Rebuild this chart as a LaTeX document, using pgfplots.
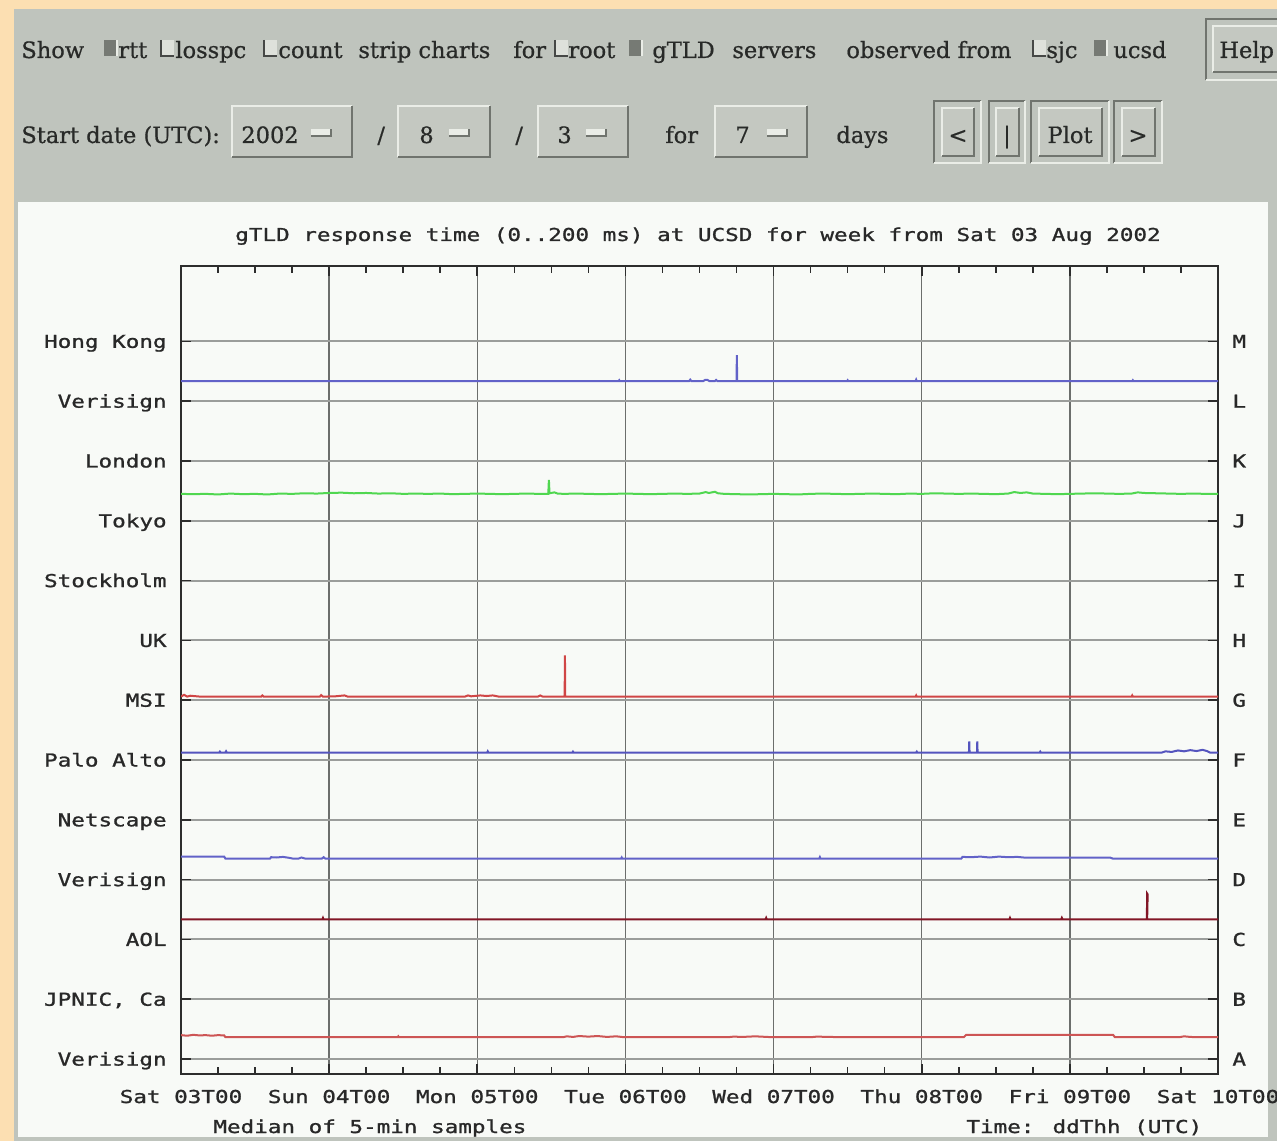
\documentclass[border=0pt]{standalone}
\usepackage{fontspec}
\usepackage{pgfplots}
\usepackage{pgfplotstable}
\pgfplotsset{compat=1.18}
\setmainfont[FakeBold=0.7]{DejaVu Serif}
\newfontfamily\pix[FakeStretch=1.27,FakeBold=1.2]{DejaVu Sans Mono}
\newcommand\pixf{\pix\fontsize{8.9pt}{10pt}\selectfont}
\newcommand\uif{\fontsize{11.25pt}{13pt}\selectfont}

\definecolor{peach}{RGB}{252,223,178}
\definecolor{panel}{RGB}{191,196,189}
\definecolor{panelhi}{RGB}{234,237,231}
\definecolor{panello}{RGB}{112,116,110}
\definecolor{btnface}{RGB}{196,200,193}
\definecolor{boxlight}{RGB}{222,225,219}
\definecolor{boxdark}{RGB}{70,72,70}
\definecolor{boxon}{RGB}{118,122,116}
\definecolor{chartbg}{RGB}{248,250,247}
\definecolor{gridh}{RGB}{155,157,155}
\definecolor{gridv}{RGB}{108,110,108}
\definecolor{framec}{RGB}{45,45,45}
\definecolor{labc}{RGB}{40,40,40}
\definecolor{uitext}{RGB}{40,42,40}
\definecolor{cblue}{RGB}{98,98,200}
\definecolor{cblue2}{RGB}{84,84,190}
\definecolor{cgreen}{RGB}{80,215,80}
\definecolor{cred}{RGB}{208,70,70}
\definecolor{cdred}{RGB}{130,22,38}
\definecolor{cpink}{RGB}{205,85,85}

% round-trip times (ms) per server, hour offset from Sat 03 Aug 00:00 UTC
\pgfplotstableread{
h ms
0 67
70.9 67
71.0 70
71.1 67
82.3 67
82.5 72
82.7 67
84.6 67
84.9 71
85.3 71
85.6 67
86.5 67
86.7 71
86.9 67
90.0 67
90.05 154
90.1 67
107.9 67
108.0 70
108.1 67
119.0 67
119.1 72
119.2 67
154.1 67
154.2 70
154.3 67
168 67
}\tabL

\pgfplotstableread{
h ms
0 90
2 89
4 90
6 88
8 91
10 89
12 90
14 88
16 91
18 90
20 92
22 91
24 93
26 94
28 92
30 93
32 91
34 92
36 90
38 91
40 90
42 91
44 89
46 90
48 91
50 90
52 89
54 90
56 91
58 90
59.5 90
59.6 137
59.7 92
60.5 95
61 91
62 90
64 91
66 90
68 89
70 90
72 91
74 90
76 89
78 90
80 91
82 90
84 91
85 96
85.5 93
86.5 97
87 92
88 90
90 89
92 88
94 89
96 90
98 89
100 88
102 90
104 91
106 90
108 89
110 90
112 91
114 90
116 89
118 91
120 90
122 92
124 91
126 90
128 91
130 90
132 89
134 91
135 96
136 93
137 95
138 91
140 90
142 89
144 90
146 91
148 92
150 91
152 90
154 91
155 95
156 93
158 92
160 91
162 90
164 91
166 90
168 90
}\tabJ

\pgfplotstableread{
h ms
0 12
0.5 18
1 12
1.5 15
3.1 12
13 12
13.2 16
13.4 12
22.5 12
22.7 17
23 12
25 13
26.5 16
27 12
46 12
46.5 16
47 13
48.5 16
49.5 14
50.5 16
51.5 12
57.8 12
58.2 16
58.6 12
62.15 12
62.2 150
62.25 12
119 12
119.1 16
119.2 12
154 12
154.1 16
154.2 12
168 12
}\tabG

\pgfplotstableread{
h ms
0 25
6.2 25
6.3 28
6.4 25
7.2 25
7.3 29
7.4 25
49.6 25
49.7 29
49.8 25
63.4 25
63.5 28
63.6 25
119.1 25
119.2 28
119.3 25
127.65 25
127.7 62
127.75 25
128.95 25
129.0 62
129.05 25
139.1 25
139.2 28
139.3 25
158.9 25
159.5 29
160.5 27
161.5 32
162.5 29
163.5 33
164.5 30
165.5 34
166.2 30
166.7 25
168 25
}\tabF

\pgfplotstableread{
h ms
0 77
7.0 77
7.2 70
14.4 70
14.6 75
15.5 74
16.5 76
17.5 73
18.2 70
19 70
19.5 74
20.2 70
22.8 70
23.1 75
23.4 70
71.3 70
71.4 74
71.5 70
103.4 70
103.5 75
103.6 70
126.4 70
126.6 76
128 75
129.5 77
131 74
132.5 77
134 75
135.5 76
136.5 74
138 74
141 74
144 74
147 74
150.5 74
151 70
168 70
}\tabD

\pgfplotstableread{
h ms
0 67
22.9 67
23.0 72
23.1 67
94.7 67
94.8 72
94.9 67
134.2 67
134.3 72
134.4 67
142.6 67
142.7 72
142.8 67
156.49 67
156.5 154
156.6 151
156.52 67
168 67
}\tabC

\pgfplotstableread{
h ms
0 80
1 78
2 81
3 79
4 80
5 78
6 80
7 79
7.2 73
35.1 73
35.2 76
35.3 73
61.9 73
62.5 76
63.5 74
64.5 77
66 75
67.5 77
69 74
70.5 76
71.8 73
88.6 73
89.5 75
91 74
93 76
95.9 73
102 73
103 75
105 74
107.7 73
126.8 73
127.2 81
151 81
151.3 73
161.7 73
162.5 76
163.5 74
164.6 73
168 73
}\tabA

% form widgets, in screen pixels (y grows downward inside the flipped scope)
\newcommand\cboff[1]{%
  \fill[boxlight] (#1,40) rectangle ++(13,16);
  \draw[boxdark,line width=1pt] (#1,40)--(#1,56)--++(13,0);}
\newcommand\cbon[1]{%
  \fill[boxon] (#1,40) rectangle ++(13,16);
  \draw[panelhi,line width=0.8pt] (#1+13,40)--++(0,16);}
\newcommand\btn[4]{%
  \fill[btnface] (#1,#2) rectangle (#3,#4);
  \draw[panelhi,line width=1.4pt] (#1,#4)--(#1,#2)--(#3,#2);
  \draw[panello,line width=1.4pt] (#1,#4)--(#3,#4)--(#3,#2);}
\newcommand\frm[4]{%
  \draw[panello,line width=0.7pt] (#1,#4)--(#1,#2)--(#3,#2);
  \draw[panelhi,line width=0.7pt] (#1,#4)--(#3,#4)--(#3,#2);}
\newcommand\ind[2]{%
  \fill[panelhi] (#1,#2) rectangle ++(20,7);
  \draw[panello,line width=0.8pt] (#1,#2+7)--++(20,0)--++(0,-7);}

\begin{document}
\begin{tikzpicture}[x=0.5pt,y=0.5pt]
\clip (0,0) rectangle (1277,1141);
\fill[peach] (0,0) rectangle (1277,1141);
\begin{scope}[shift={(0,1141)},yscale=-1]
  \fill[panel] (14,9) rectangle (1277,1141);
  \fill[chartbg] (18,202) rectangle (1268,1137);
  \begin{scope}[every node/.style={anchor=base west,inner sep=0pt,text=uitext,font=\uif}]
    % first row: series / server set / vantage point selectors
    \node at (21,58) {Show};
    \cbon{104}  \node at (118,58) {rtt};
    \cboff{161} \node at (175,58) {losspc};
    \cboff{264} \node at (278,58) {count};
    \node at (358,58) {strip charts};
    \node at (513,58) {for};
    \cboff{555} \node at (568,58) {root};
    \cbon{629}  \node at (652,58) {gTLD};
    \node at (732,58) {servers};
    \node at (846,58) {observed from};
    \cboff{1033} \node at (1046,58) {sjc};
    \cbon{1094}  \node at (1113,58) {ucsd};
    \frm{1206}{19}{1290}{80}
    \btn{1213}{26}{1290}{72}
    \node at (1219,58) {Help};
    % second row: start date, span and navigation
    \node at (21,143) {Start date (UTC):};
    \btn{232}{106}{352}{157} \node at (241,143) {2002}; \ind{311}{129}
    \node at (377,143) {/};
    \btn{398}{106}{490}{157} \node at (419,143) {8}; \ind{449}{129}
    \node at (515,143) {/};
    \btn{538}{106}{628}{157} \node at (557,143) {3}; \ind{586}{129}
    \node at (665,143) {for};
    \btn{715}{106}{807}{157} \node at (735,143) {7}; \ind{767}{129}
    \node at (836,143) {days};
    \frm{934}{101}{981}{163}   \btn{942}{108}{974}{156}
    \frm{989}{101}{1025}{163}  \btn{996}{108}{1019}{156}
    \frm{1031}{101}{1109}{163} \btn{1039}{108}{1102}{156}
    \frm{1114}{101}{1162}{163} \btn{1122}{108}{1155}{156}
    \node[anchor=base] at (958,143) {<};
    \node[anchor=base] at (1007,143) {|};
    \node[anchor=base] at (1070,143) {Plot};
    \node[anchor=base] at (1138,143) {>};
  \end{scope}
  \begin{scope}[every node/.style={inner sep=0pt,text=labc,font=\pixf}]
    \node[anchor=base] at (698,241) {gTLD response time (0..200 ms) at UCSD for week from Sat 03 Aug 2002};
    \node[anchor=base west] at (213,1133) {Median of 5-min samples};
    \node[anchor=base west] at (966,1133) {Time: ddThh (UTC)};
  \end{scope}
\end{scope}

\pgfplotsset{stripaxis/.style={
  at={(90.5pt,33.5pt)}, anchor=south west,
  scale only axis, width=518.5pt, height=404pt,
  xmin=0, xmax=168, ymin=-50, ymax=2652,
  ytick={0,200,...,2400},
  ticklabel style={font=\pixf, text=labc, inner sep=0pt},
}}

\begin{axis}[stripaxis,
  xtick={0,24,...,168},
  xticklabels={Sat 03T00,Sun 04T00,Mon 05T00,Tue 06T00,Wed 07T00,Thu 08T00,Fri 09T00,Sat 10T00},
  minor x tick num=3,
  yticklabels={Verisign,{JPNIC, Ca},AOL,Verisign,Netscape,Palo Alto,MSI,UK,Stockholm,Tokyo,London,Verisign,Hong Kong},
  xmajorgrids, ymajorgrids,
  x grid style={gridv, line width=0.7pt},
  y grid style={gridh, line width=1pt},
  axis line style={framec, line width=1pt},
  tick style={framec, line width=0.8pt},
  major tick length=5pt, minor tick length=3.5pt,
  tick align=inside,
  xtick pos=both, ytick pos=both,
  xticklabel style={anchor=base, yshift=-14.5pt},
  yticklabel style={anchor=base east, xshift=-7pt, yshift=-3.25pt},
]
\addplot[cblue,  line width=1pt] table[x=h, y expr=\thisrow{ms}+2200] {\tabL};
\addplot[cgreen, line width=1pt] table[x=h, y expr=\thisrow{ms}+1800] {\tabJ};
\addplot[cred,   line width=1pt] table[x=h, y expr=\thisrow{ms}+1200] {\tabG};
\addplot[cblue2, line width=1pt] table[x=h, y expr=\thisrow{ms}+1000] {\tabF};
\addplot[cblue,  line width=1pt] table[x=h, y expr=\thisrow{ms}+600]  {\tabD};
\addplot[cdred,  line width=1pt] table[x=h, y expr=\thisrow{ms}+400]  {\tabC};
\addplot[cpink,  line width=1pt] table[x=h, y expr=\thisrow{ms}]      {\tabA};
\end{axis}

% server letters on the right-hand side
\begin{axis}[stripaxis,
  xtick=\empty,
  yticklabels={A,B,C,D,E,F,G,H,I,J,K,L,M},
  ytick pos=right, yticklabel pos=right,
  axis line style={draw=none}, tick style={draw=none},
  yticklabel style={anchor=base west, xshift=7pt, yshift=-3.25pt},
]
\end{axis}
\end{tikzpicture}
\end{document}
